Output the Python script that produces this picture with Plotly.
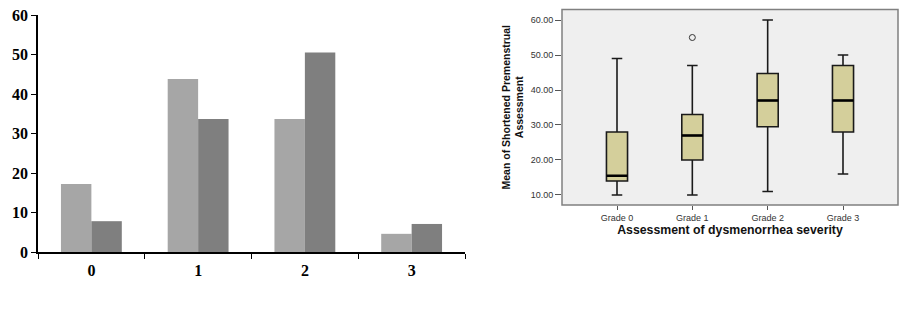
import plotly.graph_objects as go

# ---- Left chart data (bar) ----
bar_categories = ["0", "1", "2", "3"]
series_light = [17.2, 43.8, 33.7, 4.6]
series_dark = [7.8, 33.7, 50.5, 7.1]

# ---- Right chart data (box plot) ----
grades = ["Grade 0", "Grade 1", "Grade 2", "Grade 3"]
lower_whisker = [10, 10, 11, 16]
q1_vals = [14, 20, 29.5, 28]
median_vals = [15.5, 27, 37, 37]
q3_vals = [28, 33, 44.7, 47]
upper_whisker = [49, 47, 60, 50]
outlier_x = ["Grade 1"]
outlier_y = [55]
y2_ticks = [10, 20, 30, 40, 50, 60]

W, H = 923, 312

fig = go.Figure()

fig.add_trace(go.Bar(x=bar_categories, y=series_light, marker=dict(color="#a6a6a6", line=dict(width=0)),
                     xaxis="x", yaxis="y", showlegend=False))
fig.add_trace(go.Bar(x=bar_categories, y=series_dark, marker=dict(color="#7f7f7f", line=dict(width=0)),
                     xaxis="x", yaxis="y", showlegend=False))

fig.add_trace(go.Box(x=grades, q1=q1_vals, median=median_vals, q3=q3_vals,
                     lowerfence=lower_whisker, upperfence=upper_whisker,
                     fillcolor="#d4cf9b", line=dict(color="#1a1a1a", width=1.6),
                     width=0.28, whiskerwidth=0.5, boxpoints=False,
                     xaxis="x2", yaxis="y2", showlegend=False, hoverinfo="skip"))
# thicker median line overlay
fig.add_trace(go.Box(x=grades, q1=median_vals, median=median_vals, q3=median_vals,
                     lowerfence=median_vals, upperfence=median_vals,
                     fillcolor="rgba(0,0,0,0)", line=dict(color="#000000", width=2.6),
                     width=0.28, whiskerwidth=0, boxpoints=False,
                     xaxis="x2", yaxis="y2", showlegend=False, hoverinfo="skip"))
fig.add_trace(go.Scatter(x=outlier_x, y=outlier_y, mode="markers",
                         marker=dict(symbol="circle-open", size=6, color="#333333", line=dict(width=1)),
                         xaxis="x2", yaxis="y2", showlegend=False))

serif_bold = dict(family="Liberation Serif", size=16, color="black", weight="bold")

fig.update_layout(
    width=W, height=H,
    margin=dict(l=0, r=0, t=0, b=0, pad=0, autoexpand=False),
    paper_bgcolor="white", plot_bgcolor="white",
    barmode="group", bargap=0.43, bargroupgap=0,
    boxmode="overlay",
    showlegend=False,
    xaxis=dict(domain=[38 / W, 465 / W], anchor="y", type="category", automargin=False,
               showline=True, linecolor="black", linewidth=1.5,
               ticks="outside", tickson="boundaries", ticklen=5, tickcolor="black",
               tickfont=serif_bold, ticklabelstandoff=3, showgrid=False),
    yaxis=dict(domain=[1 - 252 / H, 1 - 15 / H], anchor="x", range=[0, 60], dtick=10, automargin=False,
               showline=True, linecolor="black", linewidth=1.5,
               ticks="outside", ticklen=5, tickcolor="black",
               tickfont=serif_bold, showgrid=False, zeroline=False),
    xaxis2=dict(domain=[562 / W, 898 / W], anchor="y2", type="category", automargin=False,
                categoryorder="array", categoryarray=grades,
                range=[-0.73, 3.73], showline=False, showgrid=False,
                ticks="outside", ticklen=4, tickcolor="#555555",
                tickfont=dict(family="Liberation Sans", size=9, color="#333333"),
                title=dict(text="Assessment of dysmenorrhea severity", standoff=3,
                           font=dict(family="Liberation Sans", size=12.3, color="#111111", weight="bold"))),
    yaxis2=dict(domain=[1 - 205 / H, 1 - 9.5 / H], anchor="x2", range=[7.14, 63.0], automargin=False,
                tickvals=y2_ticks, tickformat=".2f", showline=False, showgrid=False, zeroline=False,
                ticks="outside", ticklen=6, tickcolor="#555555",
                tickfont=dict(family="Liberation Sans", size=9, color="#333333"),
                title=dict(text="Mean of Shortened Premenstrual<br>Assessment", standoff=4,
                           font=dict(family="Liberation Sans", size=10.5, color="#111111", weight="bold"))),
    shapes=[dict(type="rect", xref="x2 domain", yref="y2 domain", x0=0, x1=1, y0=0, y1=1,
                 fillcolor="#efefef", line=dict(color="#808080", width=1.5), layer="below")],
)

fig.write_html("out.html")
